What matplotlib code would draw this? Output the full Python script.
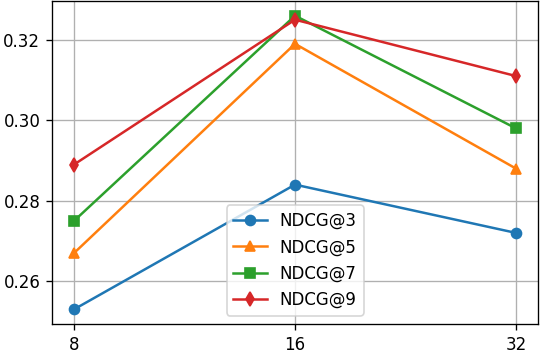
import matplotlib
matplotlib.use("Agg")
import matplotlib.pyplot as plt
from matplotlib.ticker import MultipleLocator

x_labels = ["8", "16", "32"]
ndcg3 = [0.253, 0.284, 0.272]
ndcg5 = [0.267, 0.319, 0.288]
ndcg7 = [0.275, 0.326, 0.298]
ndcg9 = [0.289, 0.325, 0.311]

fig = plt.figure(figsize=(540 / 120, 350 / 120), dpi=120)
ax = fig.add_axes([52 / 540, 26 / 350, 486 / 540, 323 / 350])

xs = range(len(x_labels))
ax.plot(xs, ndcg3, marker="o", label="NDCG@3")
ax.plot(xs, ndcg5, marker="^", label="NDCG@5")
ax.plot(xs, ndcg7, marker="s", label="NDCG@7")
ax.plot(xs, ndcg9, marker="d", label="NDCG@9")

ax.set_xticks(list(xs))
ax.set_xticklabels(x_labels)
ax.yaxis.set_major_locator(MultipleLocator(0.02))
ax.grid(True)
ax.legend(loc="lower center")

fig.savefig("out.png", dpi=120)
